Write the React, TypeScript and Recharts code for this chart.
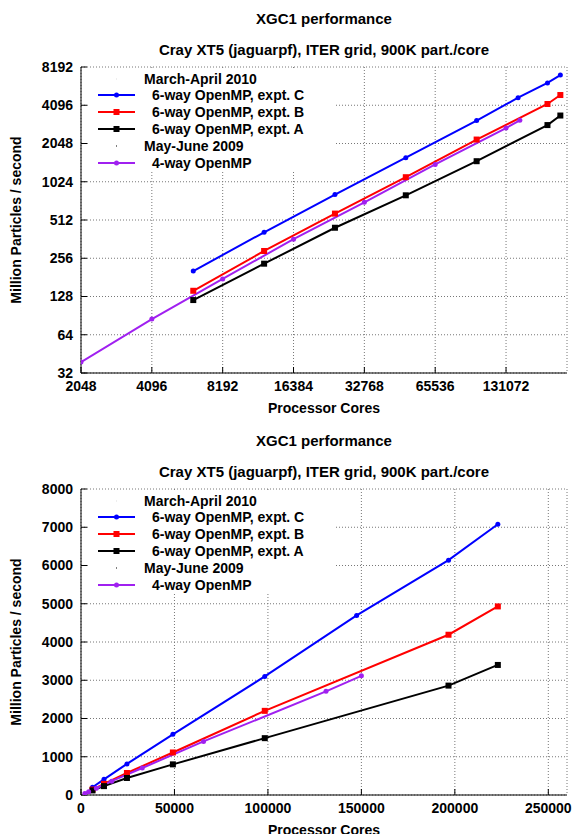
import React from 'react';
import { CartesianGrid, Line, LineChart, XAxis, YAxis } from 'recharts';

// March-April 2010 runs
const coresC = [6144, 12288, 24576, 49152, 98304, 147456, 196608, 223000];
const rateC = [203, 410, 812, 1585, 3100, 4695, 6140, 7080];
const coresB = [6144, 12288, 24576, 49152, 98304, 196608, 223000];
const rateB = [142, 292, 575, 1112, 2200, 4190, 4930];
const coresA = [6144, 12288, 24576, 49152, 98304, 196608, 223000];
const rateA = [120, 232, 445, 801, 1486, 2860, 3400];
// May-June 2009 runs
const cores2009 = [2048, 4096, 8192, 16384, 32768, 65536, 131072, 150000];
const rate2009 = [39, 85, 176, 362, 706, 1400, 2710, 3115];

const logXTicks = [2048, 4096, 8192, 16384, 32768, 65536, 131072];
const logYTicks = [32, 64, 128, 256, 512, 1024, 2048, 4096, 8192];
const linXTicks = [0, 50000, 100000, 150000, 200000, 250000];
const linYTicks = [0, 1000, 2000, 3000, 4000, 5000, 6000, 7000, 8000];

const FONT = '"Liberation Sans", Arial, Helvetica, sans-serif';
const W = 574;
const H = 417;
const PLOT = { left: 81, top: 67, right: 567, bottom: 373 };

const BLUE = '#0000ff';
const RED = '#ff0000';
const BLACK = '#000000';
const PURPLE = '#a020f0';

const toPoints = (xs: number[], ys: number[]) => xs.map((x, i) => ({ cores: x, rate: ys[i] }));

type Marker = 'dot' | 'square';

const makeDot = (color: string, marker: Marker, size: number) => (props: any) => {
  const { cx, cy, index } = props;
  if (cx == null || cy == null) return <g key={index} />;
  if (marker === 'square') {
    return <rect key={index} x={cx - size / 2} y={cy - size / 2} width={size} height={size} fill={color} />;
  }
  return <circle key={index} cx={cx} cy={cy} r={size / 2} fill={color} />;
};

const series = [
  { name: '6-way OpenMP, expt. C', color: BLUE, marker: 'dot' as Marker, size: 5, xs: coresC, ys: rateC },
  { name: '6-way OpenMP, expt. B', color: RED, marker: 'square' as Marker, size: 6, xs: coresB, ys: rateB },
  { name: '6-way OpenMP, expt. A', color: BLACK, marker: 'square' as Marker, size: 6, xs: coresA, ys: rateA },
  { name: '4-way OpenMP', color: PURPLE, marker: 'dot' as Marker, size: 5, xs: cores2009, ys: rate2009 },
];

const legendRows = [
  { label: 'March-April 2010', header: true, faint: true },
  { label: series[0].name, s: series[0] },
  { label: series[1].name, s: series[1] },
  { label: series[2].name, s: series[2] },
  { label: 'May-June 2009', header: true, faint: false },
  { label: series[3].name, s: series[3] },
];

function KeyBox() {
  return (
    <div
      style={{
        position: 'absolute',
        left: 89,
        top: PLOT.top + 1,
        width: 336 - 89,
        height: 104,
        background: '#fff',
      }}
    >
      {legendRows.map((row: any, i) => {
        const cy = 10.5 + i * 16.9;
        return (
          <div key={i} style={{ position: 'absolute', left: 0, top: cy - 8, height: 16, width: '100%' }}>
            <svg width={50} height={16} style={{ position: 'absolute', left: 0, top: 0 }}>
              {row.s ? (
                <g>
                  <line x1={9} y1={8} x2={46} y2={8} stroke={row.s.color} strokeWidth={2} />
                  {row.s.marker === 'square' ? (
                    <rect x={27.5 - row.s.size / 2} y={8 - row.s.size / 2} width={row.s.size} height={row.s.size} fill={row.s.color} />
                  ) : (
                    <circle cx={27.5} cy={8} r={row.s.size / 2} fill={row.s.color} />
                  )}
                </g>
              ) : (
                <rect x={27} y={7.5} width={1} height={1} fill={row.faint ? '#ddd' : '#000'} />
              )}
            </svg>
            <span
              style={{
                position: 'absolute',
                left: row.header ? 144 - 89 : 152 - 89,
                top: 0,
                lineHeight: '16px',
                fontSize: 14,
                fontWeight: 'bold',
                whiteSpace: 'nowrap',
                color: '#000',
              }}
            >
              {row.label}
            </span>
          </div>
        );
      })}
    </div>
  );
}

function PerfChart({ log, top }: { log: boolean; top: number }) {
  const xTicks = log ? logXTicks : linXTicks;
  const yTicks = log ? logYTicks : linYTicks;
  const xDomain: [number, number] = log ? [2048, 238000] : [0, 260000];
  const yDomain: [number, number] = log ? [32, 8192] : [0, 8000];
  const scale = log ? 'log' : 'linear';
  const tickStyle = { fontSize: 14, fontWeight: 'bold', fill: '#000', fontFamily: FONT };
  const text = (extra: React.CSSProperties) => ({
    position: 'absolute' as const,
    fontSize: 14,
    fontWeight: 'bold' as const,
    whiteSpace: 'nowrap' as const,
    color: '#000',
    ...extra,
  });

  return (
    <div style={{ position: 'absolute', left: 0, top, width: W, height: H }}>
      <div style={text({ left: PLOT.left, width: PLOT.right - PLOT.left, top: 11, textAlign: 'center', fontSize: 15, lineHeight: '15px' })}>
        XGC1 performance
      </div>
      <div style={text({ left: PLOT.left, width: PLOT.right - PLOT.left, top: 41.5, textAlign: 'center', fontSize: 15, lineHeight: '15px' })}>
        Cray XT5 (jaguarpf), ITER grid, 900K part./core
      </div>
      <LineChart
        width={W}
        height={H}
        margin={{ top: PLOT.top, right: W - PLOT.right, bottom: 0, left: 0 }}
        style={{ position: 'absolute', left: 0, top: 0 }}
      >
        <CartesianGrid stroke="#777" strokeDasharray="1 2" />
        <XAxis
          dataKey="cores"
          type="number"
          scale={scale}
          domain={xDomain}
          ticks={xTicks}
          allowDataOverflow
          height={H - PLOT.bottom}
          tick={tickStyle}
          tickSize={-6}
          tickMargin={14}
          tickLine={{ stroke: '#000' }}
          axisLine={{ stroke: '#000' }}
          interval={0}
        />
        <XAxis
          xAxisId="top"
          orientation="top"
          type="number"
          scale={scale}
          domain={xDomain}
          ticks={xTicks}
          allowDataOverflow
          height={0}
          tick={false}
          tickSize={-6}
          tickLine={{ stroke: '#000' }}
          axisLine={{ stroke: '#000' }}
        />
        <YAxis
          type="number"
          scale={scale}
          domain={yDomain}
          ticks={yTicks}
          allowDataOverflow
          width={PLOT.left}
          tick={tickStyle}
          tickSize={-6}
          tickMargin={14}
          tickLine={{ stroke: '#000' }}
          axisLine={{ stroke: '#000' }}
          interval={0}
        />
        <YAxis
          yAxisId="right"
          orientation="right"
          type="number"
          scale={scale}
          domain={yDomain}
          ticks={yTicks}
          allowDataOverflow
          width={0}
          tick={false}
          tickSize={-6}
          tickLine={{ stroke: '#000' }}
          axisLine={{ stroke: '#000' }}
        />
        {series.map((s) => (
          <Line
            key={s.name}
            name={s.name}
            data={toPoints(s.xs, s.ys)}
            dataKey="rate"
            type="linear"
            stroke={s.color}
            strokeWidth={2}
            dot={makeDot(s.color, s.marker, s.size)}
            activeDot={false}
            isAnimationActive={false}
          />
        ))}
      </LineChart>
      <KeyBox />
      <div style={text({ left: PLOT.left, width: PLOT.right - PLOT.left, top: 400, textAlign: 'center', lineHeight: '16px' })}>
        Processor Cores
      </div>
      <div
        style={text({
          left: 16,
          top: (PLOT.top + PLOT.bottom) / 2,
          lineHeight: '16px',
          transform: 'translate(-50%, -50%) rotate(-90deg)',
        })}
      >
        Million Particles / second
      </div>
    </div>
  );
}

export default function App() {
  return (
    <div
      style={{
        position: 'absolute',
        left: 0,
        top: 0,
        width: W,
        height: 834,
        overflow: 'hidden',
        background: '#fff',
        fontFamily: FONT,
      }}
    >
      <PerfChart log top={0} />
      <PerfChart log={false} top={422} />
    </div>
  );
}
